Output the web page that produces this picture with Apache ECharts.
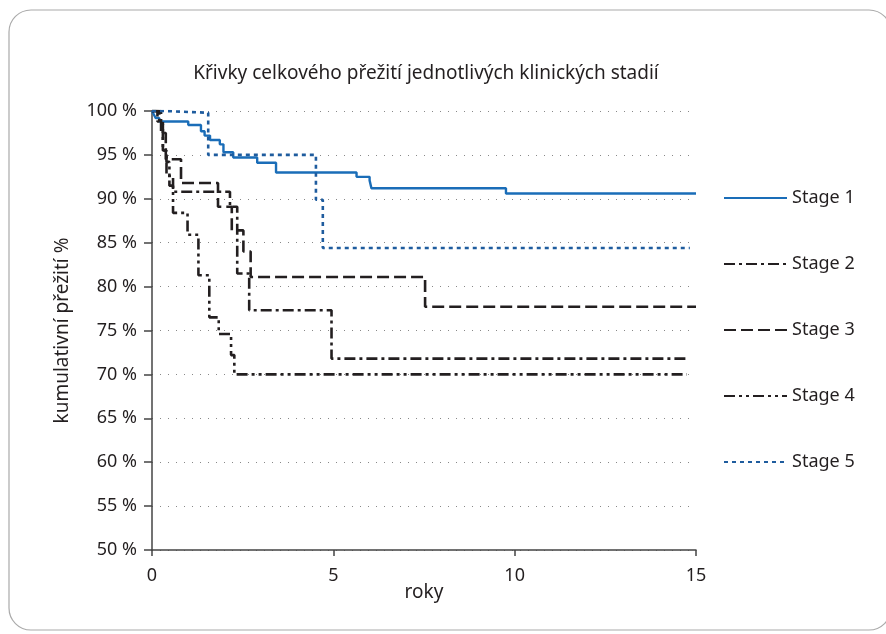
<!DOCTYPE html>
<html>
<head>
<meta charset="utf-8">
<script src="https://cdn.jsdelivr.net/npm/echarts@6/dist/echarts.min.js"></script>
<style>
html,body{margin:0;padding:0;background:#fff;}
#chart{width:886px;height:634px;}
</style>
</head>
<body>
<div id="chart"></div>
<script>
// data: [roky, přežití %]
var stageNames = ['Stage 1', 'Stage 2', 'Stage 3', 'Stage 4', 'Stage 5'];
var stage1 = [[0,100],[0.05,99.6],[0.1,99.2],[0.2,98.8],[1.0,98.4],[1.35,97.7],[1.45,97.2],[1.6,96.7],[1.87,96.2],[1.97,95.3],[2.24,94.7],[2.9,94.1],[3.42,93.0],[5.64,92.5],[6.0,92.1],[6.05,91.2],[9.76,90.6],[15,90.6]];
var stage2 = [[0,100],[0.2,98.5],[0.3,95.5],[0.4,92.6],[0.58,90.8],[2.15,89.1],[2.35,81.5],[2.68,77.3],[4.95,71.8],[14.8,71.8]];
var stage3 = [[0,100],[0.25,97.5],[0.38,94.5],[0.8,91.8],[1.82,89.1],[2.2,86.4],[2.52,84.0],[2.72,81.1],[7.53,77.7],[15,77.7]];
var stage4 = [[0,100],[0.15,98.8],[0.3,95.5],[0.4,94.2],[0.48,91.5],[0.58,88.4],[0.98,85.9],[1.28,81.3],[1.58,76.5],[1.84,74.6],[2.18,72.2],[2.27,70.0],[14.75,70.0]];
var stage5 = [[0,100],[0.35,99.8],[1.55,95.0],[4.52,89.9],[4.71,84.4],[14.83,84.4]];
var xTicks = [0, 5, 10, 15];
var yMin = 50, yMax = 100, yStep = 5;

var black = '#231f20';
var font = 'Noto Sans';

var chart = echarts.init(document.getElementById('chart'));

var line = function(name, data, color, type, width){
	return {
		name: name, type: 'line', step: 'end', data: data,
		symbol: 'none', showSymbol: false, animation: false,
		lineStyle: {color: color, width: width || 2.5, type: type},
		itemStyle: {color: color}
	};
};

chart.setOption({
	animation: false,
	title: {
		text: 'Křivky celkového přežití jednotlivých klinických stadií',
		left: 421, top: 59, textAlign: 'center',
		textStyle: {fontFamily: font, fontSize: 19, fontWeight: 'normal', color: black}
	},
	graphic: [{
		type: 'rect', silent: true,
		shape: {x: 9, y: 10, width: 882, height: 620, r: 22},
		style: {fill: 'none', stroke: '#aaaaaa', lineWidth: 1.2}
	}],
	legend: {
		orient: 'vertical', left: 723, top: 188, padding: 0,
		itemWidth: 63, itemHeight: 14, itemGap: 46,
		itemStyle: {opacity: 0},
		data: stageNames,
		textStyle: {fontFamily: font, fontSize: 18, color: black, lineHeight: 20}
	},
	grid: {left: 152, top: 111, right: 190, bottom: 84},
	xAxis: {
		type: 'value', min: 0, max: 15, interval: 5,
		name: 'roky', nameLocation: 'middle', nameGap: 33, nameMoveOverlap: false,
		nameTextStyle: {fontFamily: font, fontSize: 19, color: black},
		axisLine: {lineStyle: {color: '#444', width: 1.5}},
		axisTick: {show: true, length: 6, lineStyle: {color: '#444', width: 1.5}},
		axisLabel: {fontFamily: font, fontSize: 18, color: black, margin: 17,
			formatter: function(v){ return xTicks.indexOf(v) >= 0 ? v : ''; }},
		splitLine: {show: false}
	},
	yAxis: {
		type: 'value', min: yMin, max: yMax, interval: yStep,
		name: 'kumulativní přežití %', nameLocation: 'middle', nameGap: 80, nameMoveOverlap: false,
		nameTextStyle: {fontFamily: font, fontSize: 19, color: black},
		axisLine: {show: true, lineStyle: {color: '#444', width: 1.5}},
		axisTick: {show: true, length: 8, lineStyle: {color: '#444', width: 1.5}},
		axisLabel: {fontFamily: font, fontSize: 18, color: black, margin: 15, formatter: '{value} %'},
		splitLine: {show: true, lineStyle: {color: '#888', width: 1, type: [1, 7]}}
	},
	series: [
		line('Stage 1', stage1, '#1a6db8', 'solid', 2.4),
		line('Stage 2', stage2, black, [11, 4, 3, 4], 2.6),
		line('Stage 3', stage3, black, [12, 5], 2.6),
		line('Stage 4', stage4, black, [11, 4, 3, 4, 3, 4], 2.6),
		line('Stage 5', stage5, '#1f5c9e', [4, 4], 2.6)
	]
});
</script>
</body>
</html>
